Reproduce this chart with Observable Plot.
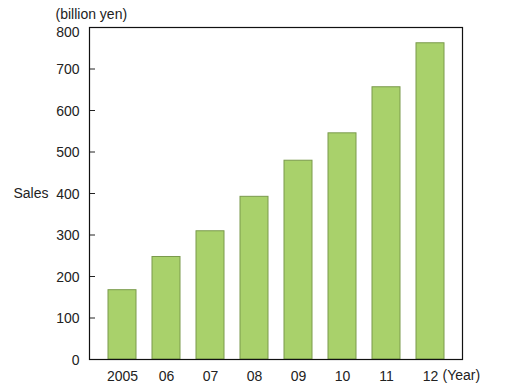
<!DOCTYPE html>
<html>
<head>
<meta charset="utf-8">
<script src="https://cdn.jsdelivr.net/npm/d3@7"></script>
<script src="https://cdn.jsdelivr.net/npm/@observablehq/plot@0.6"></script>
<style>
  html, body { margin: 0; padding: 0; background: #fff; }
  #chart svg { display: block; }
</style>
</head>
<body>
<div id="chart"></div>
<script>
const years = ["2005", "06", "07", "08", "09", "10", "11", "12"];
const sales = [167, 247, 309, 392, 479, 545, 656, 762];
const yTicks = [0, 100, 200, 300, 400, 500, 600, 700, 800];
const unitLabel = "(billion yen)";
const yLabel = "Sales";
const xUnit = "(Year)";

const data = years.map((y, i) => ({year: y, sales: sales[i]}));
const lowerTicks = yTicks.filter(t => t < 800);
const topTick = yTicks.filter(t => t >= 800);

const fontFamily = "'Liberation Sans', Arial, Helvetica, sans-serif";
const ink = "#222";

const chart = Plot.plot({
  width: 517,
  height: 392,
  marginLeft: 89,
  marginRight: 55,
  marginTop: 27,
  marginBottom: 33,
  style: {fontFamily, fontSize: "14px", color: ink, background: "#fff"},
  x: {domain: years, paddingInner: 0.374, paddingOuter: 0.36},
  y: {domain: [0, 800]},
  marks: [
    Plot.barY(data, {x: "year", y: "sales", fill: "#a9d16b", stroke: "#7a9a4c", strokeWidth: 1}),
    Plot.axisY({ticks: yTicks, tickSize: -6, text: null, label: null, stroke: ink}),
    Plot.axisY({ticks: lowerTicks, tickSize: 0, tickPadding: 10, dy: 1, label: null, fill: ink, fontSize: 14}),
    Plot.axisY({ticks: topTick, tickSize: 0, tickPadding: 10, dy: 5, label: null, fill: ink, fontSize: 14}),
    Plot.axisX({tickSize: 0, tickPadding: 12, label: null, fill: ink, fontSize: 14}),
    Plot.frame({stroke: "#111", strokeWidth: 1.2}),
    Plot.text([unitLabel], {frameAnchor: "top-left", dx: -34, dy: -18, textAnchor: "start", fill: ink, fontSize: 14}),
    Plot.text([yLabel], {frameAnchor: "left", dx: -41, textAnchor: "end", fill: ink, fontSize: 14}),
    Plot.text([xUnit], {frameAnchor: "bottom-right", dx: -20, dy: 20, textAnchor: "start", fill: ink, fontSize: 14})
  ]
});
document.getElementById("chart").append(chart);
</script>
</body>
</html>
